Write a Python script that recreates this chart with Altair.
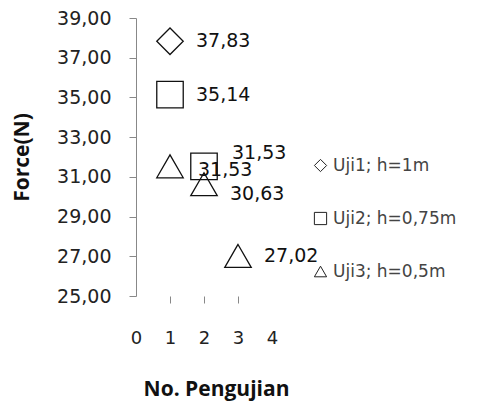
import altair as alt
import pandas as pd

series_names = ["Uji1; h=1m", "Uji2; h=0,75m", "Uji3; h=0,5m"]
uji1_x = [1]
uji1_y = [37.83]
uji2_x = [1, 2]
uji2_y = [35.14, 31.53]
uji3_x = [1, 2, 3]
uji3_y = [31.53, 30.63, 27.02]
x_ticks = [0, 1, 2, 3, 4]
y_ticks = [25, 27, 29, 31, 33, 35, 37, 39]

rows = []
for name, xs, ys in zip(series_names, [uji1_x, uji2_x, uji3_x], [uji1_y, uji2_y, uji3_y]):
    for i, (xv, yv) in enumerate(zip(xs, ys)):
        rows.append({"series": name, "x": xv, "y": yv, "idx": i})
df = pd.DataFrame(rows)

NUM_FONT = "DejaVu Sans"
TITLE_FONT = "Open Sans"

x_enc = alt.X("x:Q", scale=alt.Scale(domain=[0, 4], nice=False),
              axis=alt.Axis(values=x_ticks, tickCount=20, domain=False, grid=False,
                            tickSize=7, tickColor="#888888",
                            tickOpacity={"condition": {"test": "datum.value == 0 || datum.value == 4", "value": 0}, "value": 1},
                            labelPadding=26, labelFont=NUM_FONT, labelFontSize=18,
                            labelColor="#222222", format="d", labelOverlap=False,
                            labelBound=False, labelFlush=False,
                            title="No. Pengujian", titleFont=TITLE_FONT,
                            titleFontSize=21, titleFontWeight="bold",
                            titleColor="#111111", titlePadding=31, titleX=80))
y_enc = alt.Y("y:Q", scale=alt.Scale(domain=[25, 39], nice=False, zero=False),
              axis=alt.Axis(values=y_ticks, tickCount=20, grid=False, domainColor="#888888",
                            tickColor="#888888", tickSize=7, labelPadding=18,
                            labelFont=NUM_FONT, labelFontSize=19, labelColor="#222222",
                            labelOverlap=False, labelBound=False, labelFlush=False,
                            labelExpr="replace(format(datum.value, '.2f'), '.', ',')",
                            title="Force(N)", titleFont=TITLE_FONT, titleFontSize=21,
                            titleFontWeight="bold", titleColor="#111111", titlePadding=24))

shape_scale = alt.Scale(domain=series_names, range=["diamond", "square", "triangle-up"])

points = alt.Chart(df).mark_point(size=700, filled=False, strokeWidth=1.3, color="#111111", opacity=1).encode(
    x=x_enc, y=y_enc,
    shape=alt.Shape("series:N", scale=shape_scale,
                    legend=alt.Legend(title=None, orient="none", legendX=176, legendY=139,
                                      symbolSize=150, symbolStrokeColor="#222222",
                                      symbolFillColor="transparent", symbolStrokeWidth=1,
                                      labelFont=NUM_FONT, labelFontSize=17, labelColor="#444444",
                                      labelOffset=4, rowPadding=35, labelLimit=300)),
)

label_expr = "replace(format(datum.y, '.2f'), '.', ',')"

def labels(filter_expr, dx, dy):
    return alt.Chart(df).transform_filter(filter_expr).transform_calculate(lbl=label_expr).mark_text(
        align="left", baseline="middle", dx=dx, dy=dy, font=NUM_FONT, fontSize=19, color="#111111"
    ).encode(x="x:Q", y="y:Q", text="lbl:N")

lab_default = labels("!(datum.series == 'Uji2; h=0,75m' && datum.x == 2) && !(datum.series == 'Uji3; h=0,5m' && datum.x <= 2)", 26, 0)
lab_sq2 = labels("datum.series == 'Uji2; h=0,75m' && datum.x == 2", 28, -13)
lab_tri2 = labels("datum.series == 'Uji3; h=0,5m' && datum.x == 2", 26, 10)
lab_tri1 = labels("datum.series == 'Uji3; h=0,5m' && datum.x == 1", 28, 4)

chart = alt.layer(points, lab_default, lab_sq2, lab_tri2, lab_tri1).properties(
    width=136, height=278, background="white",
    padding={"left": 3, "top": 1, "right": 5, "bottom": 5},
).configure_view(stroke=None)

chart.save("out.html", embed_options={"renderer": "svg", "actions": False})
